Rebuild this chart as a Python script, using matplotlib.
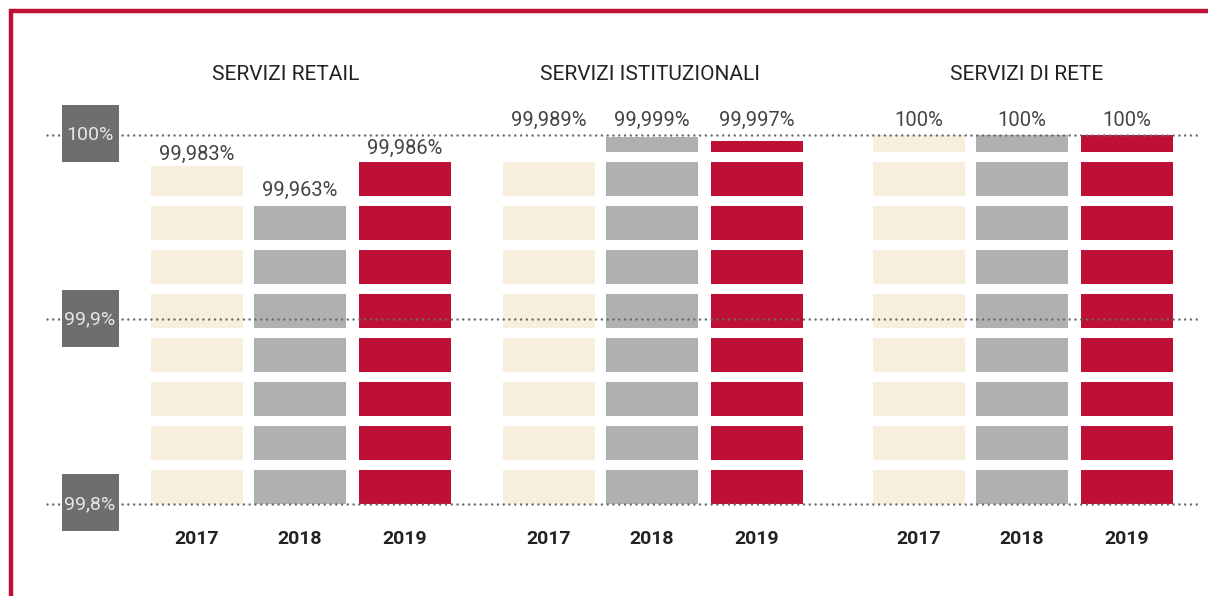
import matplotlib
matplotlib.use('Agg')
import matplotlib.pyplot as plt
from matplotlib.patches import Rectangle
from matplotlib.lines import Line2D

plt.rcParams['font.family'] = ['Roboto', 'DejaVu Sans']

# data
panels = ['SERVIZI RETAIL', 'SERVIZI ISTITUZIONALI', 'SERVIZI DI RETE']
years = ['2017', '2018', '2019']
retail = [99.983, 99.963, 99.986]
istituzionali = [99.989, 99.999, 99.997]
rete = [100.0, 100.0, 100.0]
labels_retail = ['99,983%', '99,963%', '99,986%']
labels_ist = ['99,989%', '99,999%', '99,997%']
labels_rete = ['100%', '100%', '100%']
yticks = [100.0, 99.9, 99.8]
ytick_labels = ['100%', '99,9%', '99,8%']

values = [retail, istituzionali, rete]
value_labels = [labels_retail, labels_ist, labels_rete]
colors = ['#F7EFDC', '#B0B0B0', '#BE1034']

# layout (x units = 100 px)
group_centers = [3.00, 6.52, 10.22]
title_centers = [2.86, 6.50, 10.27]
offsets = [-1.03, 0.0, 1.05]
bar_w = 0.92
base = 99.8
pitch = 0.1 * 44 / 184.5
block = 0.1 * 34 / 184.5

fig = plt.figure(figsize=(12.08, 5.96), dpi=100)
ax = fig.add_axes([0, 1 - 504 / 596, 1, 369 / 596])
ax.set_xlim(0, 12.08)
ax.set_ylim(99.8, 100.0)
ax.axis('off')

# dotted grid lines
for yv in yticks:
    ax.plot([0.47, 12.0], [yv, yv], linestyle=(0, (0.01, 2.3)), color='#6A6A6A',
            linewidth=1.8, dash_capstyle='round', zorder=3, clip_on=False)

# bars made of blocks
for g, vals in enumerate(values):
    for i, v in enumerate(vals):
        x = group_centers[g] + offsets[i]
        b = base
        while b < v - 1e-9:
            h = min(block, v - b)
            ax.bar(x, h, bottom=b, width=bar_w, color=colors[i], linewidth=0, zorder=2)
            b += pitch
        if v < 99.988:
            ly, off = v, 5
        else:
            ly, off = 100.0, 6.5
        ax.annotate(value_labels[g][i], (x, ly), xytext=(0, off), textcoords='offset points',
                    ha='center', va='baseline', fontsize=14.5, color='#444444',
                    clip_on=False, zorder=5)
        fig.text(x / 12.08, 1 - 539 / 596, years[i], ha='center', va='center',
                 fontsize=14, fontweight='bold', color='#222222')
    fig.text(title_centers[g] / 12.08, 1 - 75 / 596, panels[g], ha='center', va='center',
             fontsize=15, color='#222222')

# y tick boxes
box_h = 0.1 * 57 / 184.5
for yv, lab in zip(yticks, ytick_labels):
    ax.add_patch(Rectangle((0.615, yv - box_h / 2 + 0.0007), 0.575, box_h, facecolor='#6E6E6E',
                           edgecolor='none', zorder=6, clip_on=False))
    ax.text(0.90, yv, lab, ha='center', va='center', fontsize=14, color='#E6E6E6',
            zorder=7, clip_on=False)

# red frame
fig.add_artist(Line2D([11 / 1208, 11 / 1208], [0, 1 - 9 / 596], color='#BE1034', linewidth=3.2,
                      solid_capstyle='butt'))
fig.add_artist(Line2D([9 / 1208, 1], [1 - 11 / 596, 1 - 11 / 596], color='#BE1034', linewidth=3.2,
                      solid_capstyle='butt'))

fig.savefig('out.png', dpi=100, facecolor='white')
